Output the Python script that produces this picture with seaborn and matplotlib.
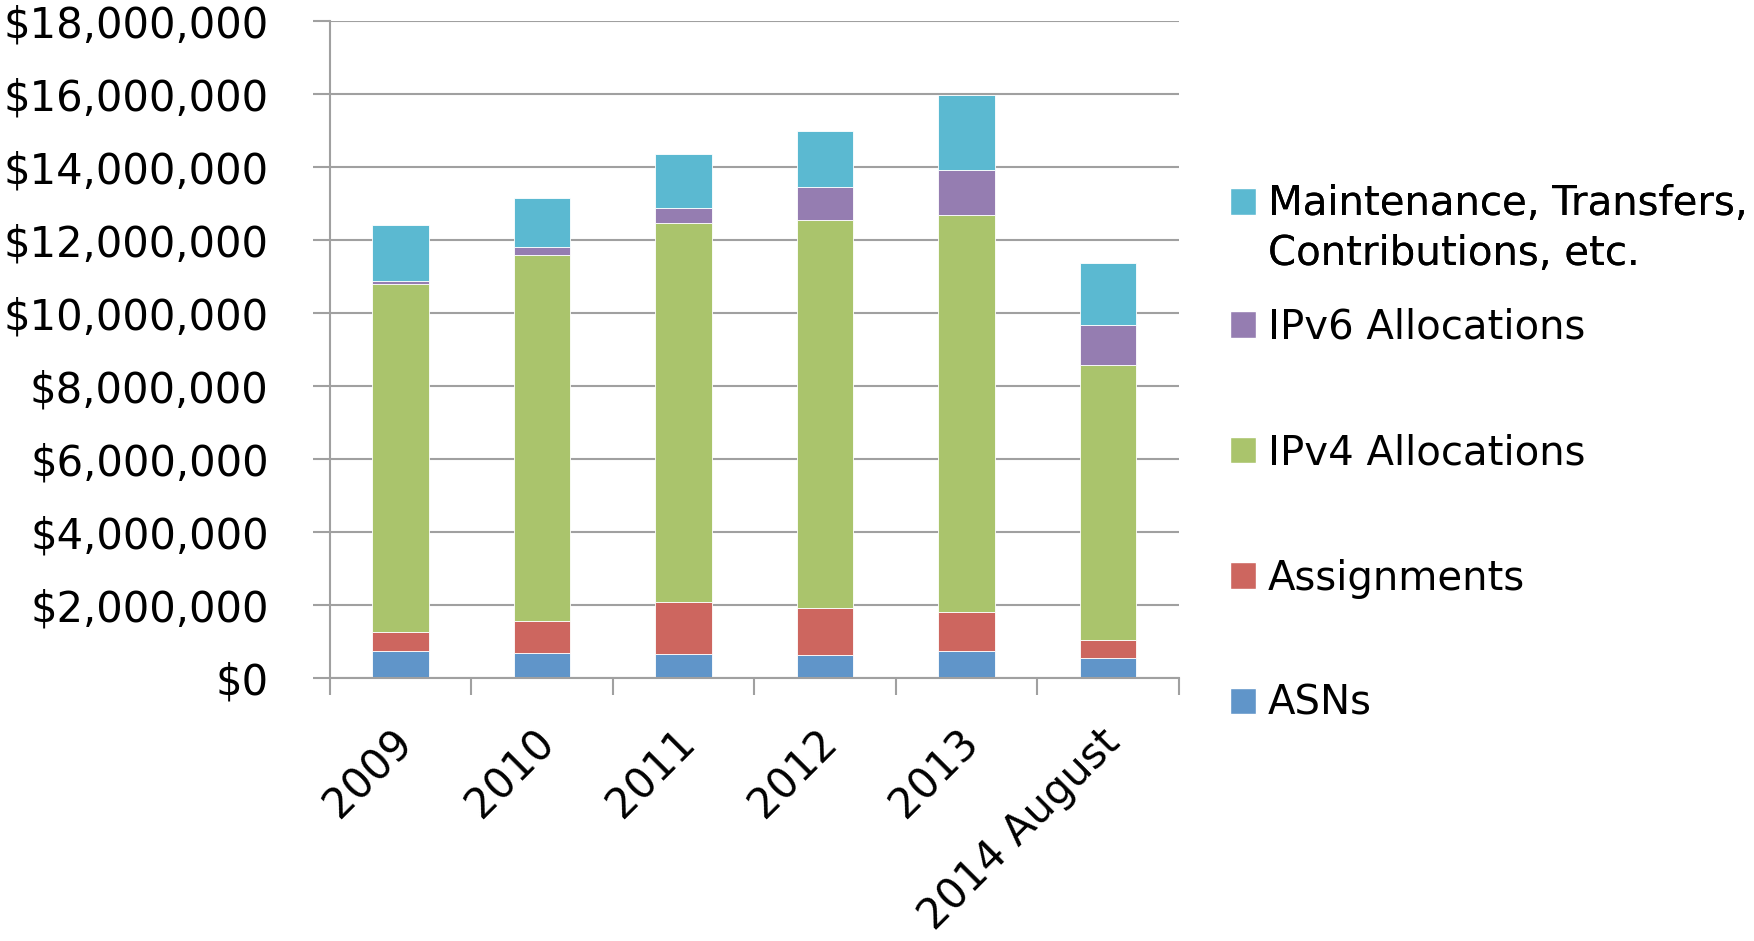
import matplotlib
matplotlib.use("Agg")
import matplotlib.pyplot as plt
import matplotlib.ticker as mticker
import matplotlib.transforms as mtransforms
from matplotlib.patches import Patch
import numpy as np
import pandas as pd
import seaborn as sns

years = ["2009", "2010", "2011", "2012", "2013", "2014 August"]
asns = [750000, 690000, 660000, 640000, 750000, 560000]
assignments = [500000, 880000, 1410000, 1290000, 1070000, 480000]
ipv4 = [9550000, 10020000, 10390000, 10620000, 10860000, 7540000]
ipv6 = [90000, 210000, 430000, 900000, 1230000, 1080000]
maintenance = [1510000, 1360000, 1460000, 1530000, 2070000, 1720000]

series_names = ["ASNs", "Assignments", "IPv4 Allocations", "IPv6 Allocations",
                "Maintenance, Transfers, Contributions, etc."]
series_values = [asns, assignments, ipv4, ipv6, maintenance]
colors = ["#6095C9", "#CD665F", "#AAC46C", "#957DB1", "#5BB9D1"]

sns.set_theme(style="white")
plt.rcParams["font.family"] = ["DejaVu Sans"]
plt.rcParams["text.color"] = "black"
plt.rcParams["xtick.labelcolor"] = "black"
plt.rcParams["ytick.labelcolor"] = "black"

fig = plt.figure(figsize=(17.54, 9.41), dpi=100)
ax = fig.add_axes([0.188, 0.2795, 0.484, 0.6982])

grid_c = "#A0A0A0"
ax.set_axisbelow(True)
ax.yaxis.grid(True, color=grid_c, linewidth=1.5)

bottom = np.zeros(len(years))
for name, vals, col in zip(series_names, series_values, colors):
    df = pd.DataFrame({"year": years, "value": vals})
    sns.barplot(data=df, x="year", y="value", order=years, color=col,
                width=0.4, bottom=bottom, ax=ax, edgecolor="white",
                linewidth=0.6, saturation=1, errorbar=None)
    bottom = bottom + np.array(vals)

ax.set_xlim(-0.5, len(years) - 0.5)
ax.set_ylim(0, 18000000)
ax.set_yticks(np.arange(0, 18000001, 2000000))
ax.yaxis.set_major_formatter(mticker.StrMethodFormatter("${x:,.0f}"))
ax.set_xlabel("")
ax.set_ylabel("")

for s in ["top", "right"]:
    ax.spines[s].set_visible(False)
for s in ["left", "bottom"]:
    ax.spines[s].set_color(grid_c)
    ax.spines[s].set_linewidth(1.5)

ax.tick_params(axis="y", which="major", length=12, width=1.5, color=grid_c,
               labelsize=30, pad=32, left=True, labelcolor="black")
ax.tick_params(axis="x", which="major", length=0, labelsize=30, pad=31,
               labelcolor="black")
ax.set_xticks(np.arange(-0.5, len(years), 1.0), minor=True)
ax.tick_params(axis="x", which="minor", length=12, width=1.5, color=grid_c, bottom=True)
offset = mtransforms.ScaledTranslation(-0.09, 0, fig.dpi_scale_trans)
for lab in ax.get_xticklabels():
    lab.set_rotation(45)
    lab.set_ha("right")
    lab.set_va("top")
    lab.set_rotation_mode("anchor")
    lab.set_transform(lab.get_transform() + offset)

leg_kw = dict(frameon=False, fontsize=29, handlelength=0.63, handleheight=0.63,
              handletextpad=0.3, borderaxespad=0, borderpad=0, labelcolor="black")

# top entry (two text lines; square marker sits on the first line)
maint_lines = ["Maintenance, Transfers,", "Contributions, etc."]
top_handles = [Patch(facecolor=colors[4]), Patch(facecolor="none", edgecolor="none")]
leg_top = fig.legend(top_handles, maint_lines, loc="center left",
                     bbox_to_anchor=(0.7014, 0.7563), labelspacing=0.24, **leg_kw)
fig.add_artist(leg_top)

# remaining entries
rest_handles = [Patch(facecolor=c) for c in colors[3::-1]]
rest_labels = series_names[3::-1]
leg = fig.legend(rest_handles, rest_labels, loc="center left",
                 bbox_to_anchor=(0.7014, 0.4518), labelspacing=2.12, **leg_kw)

fig.savefig("out.png", dpi=100)
